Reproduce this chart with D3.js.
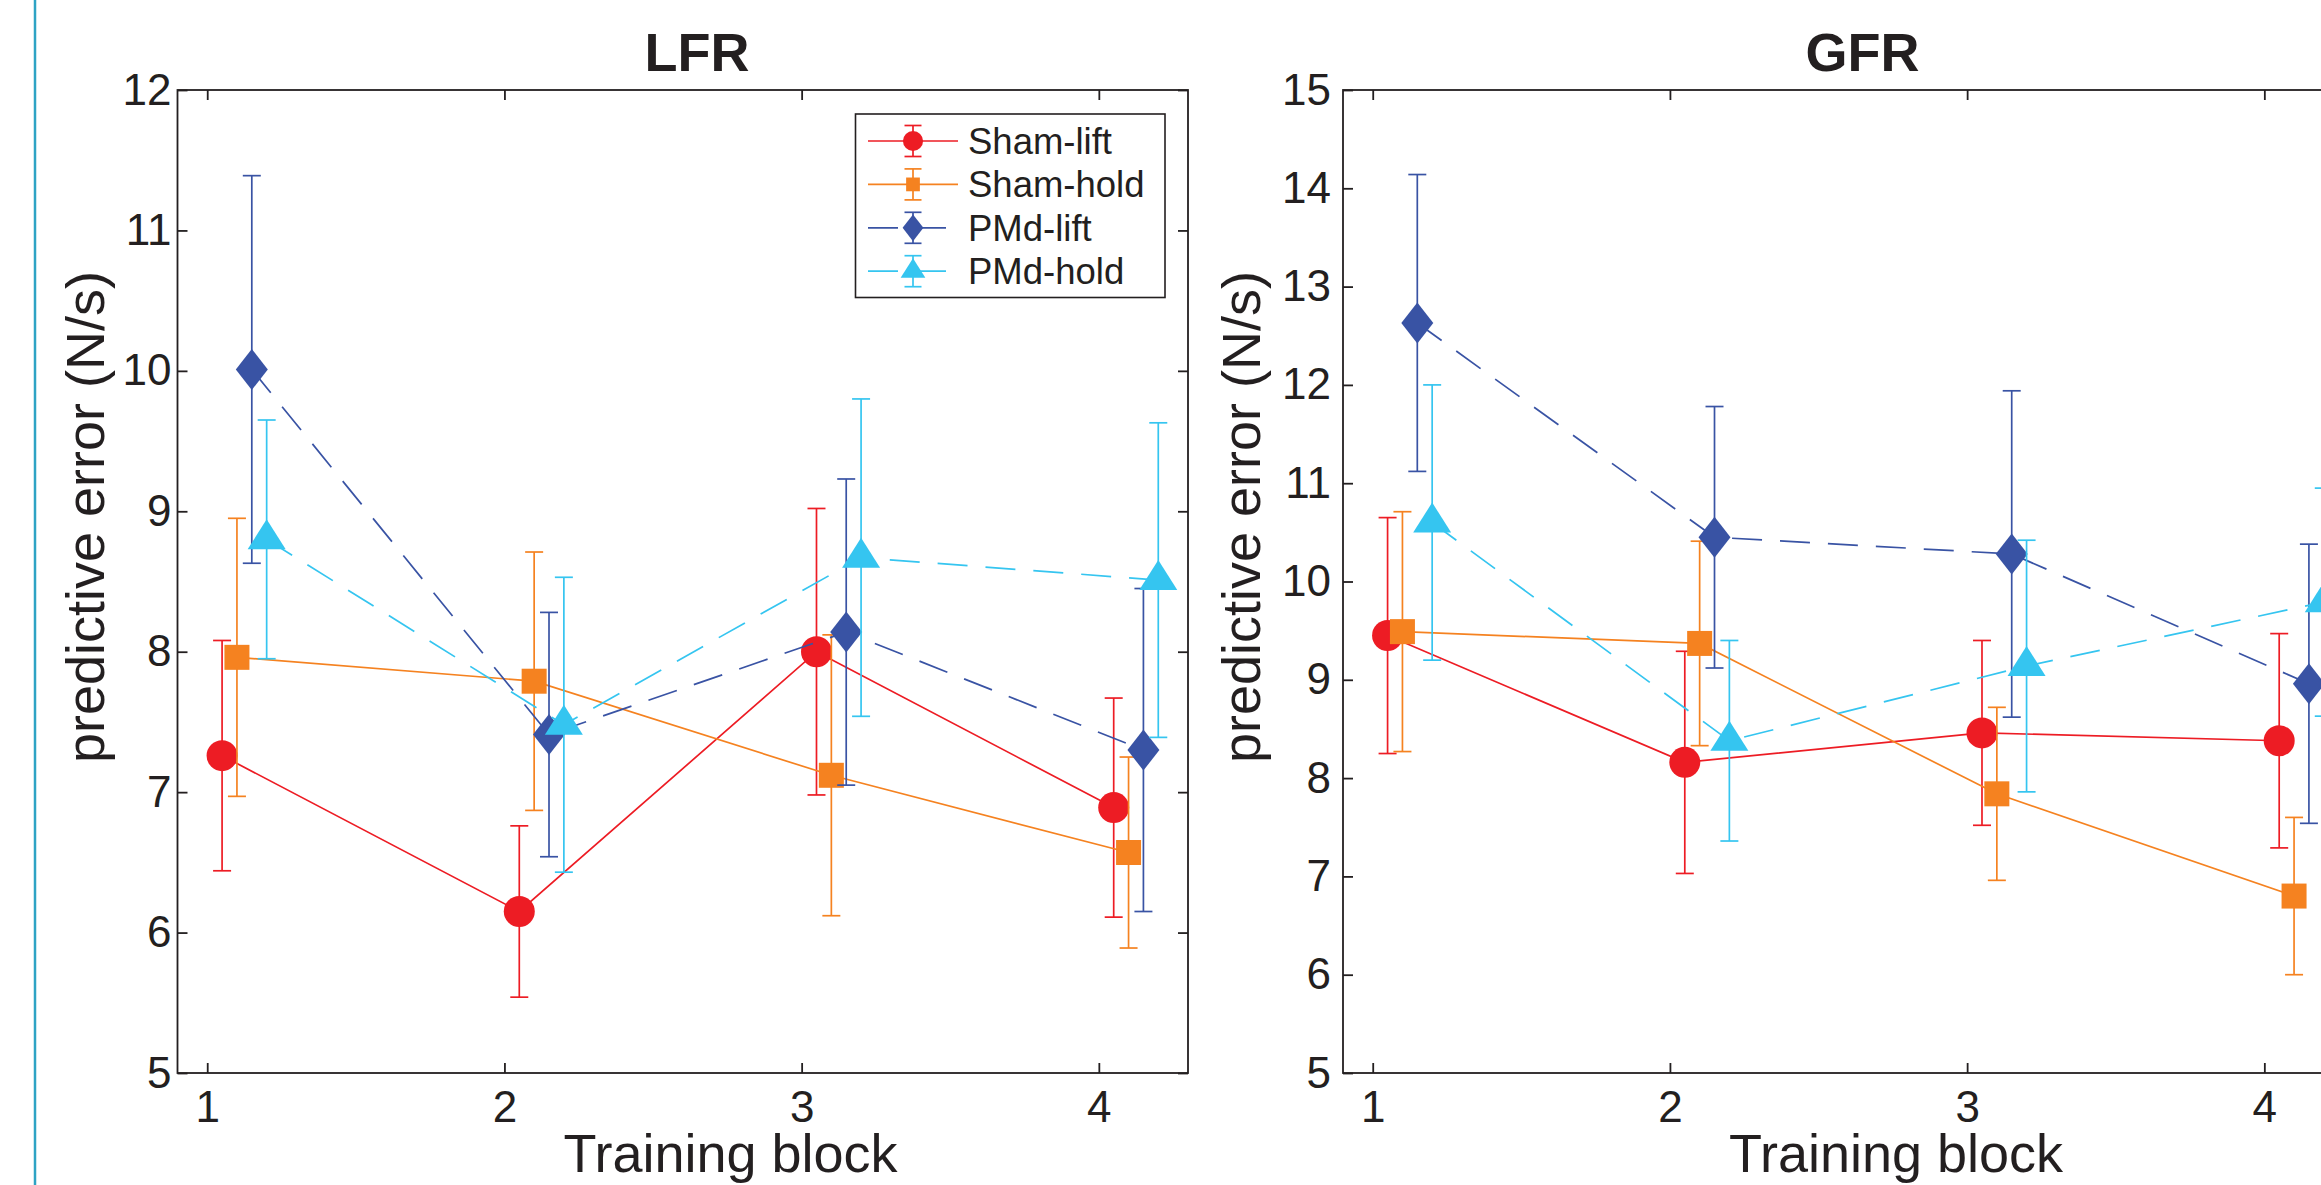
<!DOCTYPE html>
<html lang="en">
<head>
<meta charset="utf-8" />
<title>Predictive error - LFR / GFR</title>
<style>
  * { margin: 0; padding: 0; }
  body { background: #fff; }
  svg { display: block; font-family: "Liberation Sans", Arial, Helvetica, sans-serif; }
  .axis path { display: none; }
  .axis line { stroke: #231f20; stroke-width: 1.8px; }
  .axis text { font-size: 44px; fill: #231f20; font-family: "Liberation Sans", Arial, sans-serif; }
  .frame { fill: none; stroke: #231f20; stroke-width: 1.8px; }
  .title { font-size: 54px; font-weight: bold; fill: #231f20; text-anchor: middle; }
  .label { font-size: 54px; fill: #231f20; text-anchor: middle; }
  .legend text { font-size: 36.5px; fill: #231f20; }
</style>
</head>
<body>
<script src="https://d3js.org/d3.v7.min.js"></script>
<div id="chart"></div>
<script>

// ---- data ----
var blocks = [1, 2, 3, 4];
var seriesNames = ["Sham-lift", "Sham-hold", "PMd-lift", "PMd-hold"];
var lfrTicks = [5, 6, 7, 8, 9, 10, 11, 12];
var gfrTicks = [5, 6, 7, 8, 9, 10, 11, 12, 13, 14, 15];

// LFR means and error bar half-widths
var lfrShamLift     = [7.26, 6.15, 8.00, 6.89];
var lfrShamLiftErr  = [0.82, 0.61, 1.02, 0.78];
var lfrShamHold     = [7.96, 7.79, 7.12, 6.57];
var lfrShamHoldErr  = [0.99, 0.92, 1.00, 0.68];
var lfrPmdLift      = [10.01, 7.41, 8.14, 7.30];
var lfrPmdLiftErr   = [1.38, 0.87, 1.09, 1.15];
var lfrPmdHold      = [8.80, 7.48, 8.67, 8.51];
var lfrPmdHoldErr   = [0.85, 1.05, 1.13, 1.12];

// GFR means and error bar half-widths
var gfrShamLift     = [9.45, 8.16, 8.46, 8.38];
var gfrShamLiftErr  = [1.20, 1.13, 0.94, 1.09];
var gfrShamHold     = [9.49, 9.37, 7.84, 6.80];
var gfrShamHoldErr  = [1.22, 1.04, 0.88, 0.80];
var gfrPmdLift      = [12.63, 10.45, 10.28, 8.96];
var gfrPmdLiftErr   = [1.51, 1.33, 1.66, 1.42];
var gfrPmdHold      = [10.60, 8.38, 9.14, 9.79];
var gfrPmdHoldErr   = [1.40, 1.02, 1.28, 1.16];

// ---- styling ----
var colors  = ["#ed1c24", "#f58220", "#3953a4", "#35c5f0"];
var shapes  = ["circle", "square", "diamond", "triangle"];
var offsets = [0.05, 0.10, 0.15, 0.20];
var dashes  = [null, null, "30,18", "30,18"];

var W = 2321, H = 1185;
var top0 = 90, bottom0 = 1073, plotW = 1010.5;
var fmt = d3.format("d");

var svg = d3.select("#chart").append("svg")
    .attr("width", W)
    .attr("height", H);

// thin vertical rule at the far left of the page
svg.append("line")
    .attr("x1", 35).attr("x2", 35)
    .attr("y1", 0).attr("y2", H)
    .attr("stroke", "#2ea3c4")
    .attr("stroke-width", 2.5);

// marker path centred on 0,0 ; s = scale factor (1 for plot, smaller for legend)
var markerPath = function(shape, s) {
    if (shape == "circle") {
        var r = 15.5 * s;
        return "M" + (-r) + ",0A" + r + "," + r + " 0 1,0 " + r + ",0A" + r + "," + r + " 0 1,0 " + (-r) + ",0Z";
    } else if (shape == "square") {
        var h = 12.5 * s;
        return "M" + (-h) + "," + (-h) + "H" + h + "V" + h + "H" + (-h) + "Z";
    } else if (shape == "diamond") {
        var w = 16 * s, v = 20.5 * s;
        return "M0," + (-v) + "L" + w + ",0L0," + v + "L" + (-w) + ",0Z";
    } else {
        var tw = 19 * s;
        return "M0," + (-20 * s) + "L" + tw + "," + (10 * s) + "L" + (-tw) + "," + (10 * s) + "Z";
    }
};

var drawPanel = function(cfg) {
    var x = d3.scaleLinear().domain([0.9, 4.3]).range([cfg.x0, cfg.x0 + plotW]);
    var y = d3.scaleLinear().domain([cfg.ticks[0], cfg.ticks[cfg.ticks.length - 1]]).range([bottom0, top0]);
    var g = svg.append("g");

    g.append("rect")
        .attr("class", "frame")
        .attr("x", cfg.x0).attr("y", top0)
        .attr("width", plotW).attr("height", bottom0 - top0);

    g.append("g")
        .attr("class", "axis")
        .attr("transform", "translate(" + cfg.x0 + ",0)")
        .call(d3.axisLeft(y).tickValues(cfg.ticks).tickFormat(fmt).tickSizeInner(-10).tickSizeOuter(0).tickPadding(cfg.tickPad));
    g.append("g")
        .attr("class", "axis")
        .attr("transform", "translate(" + (cfg.x0 + plotW) + ",0)")
        .call(d3.axisRight(y).tickValues(cfg.ticks).tickSizeInner(-10).tickSizeOuter(0).tickFormat(""));
    g.append("g")
        .attr("class", "axis")
        .attr("transform", "translate(0," + bottom0 + ")")
        .call(d3.axisBottom(x).tickValues(blocks).tickFormat(fmt).tickSizeInner(-10).tickSizeOuter(0).tickPadding(18));
    g.append("g")
        .attr("class", "axis")
        .attr("transform", "translate(0," + top0 + ")")
        .call(d3.axisTop(x).tickValues(blocks).tickSizeInner(-10).tickSizeOuter(0).tickFormat(""));

    // series
    cfg.means.forEach(function(m, i) {
        var pts = blocks.map(function(b, j) { return {x: b + offsets[i], y: m[j], e: cfg.errs[i][j]}; });
        var line = d3.line()
            .x(function(d) { return x(d.x); })
            .y(function(d) { return y(d.y); });
        var sg = g.append("g");
        sg.append("path")
            .datum(pts)
            .attr("d", line)
            .attr("fill", "none")
            .attr("stroke", colors[i])
            .attr("stroke-width", 1.7)
            .attr("stroke-dasharray", dashes[i]);
        var eb = sg.selectAll(".eb").data(pts).enter().append("g").attr("class", "eb")
            .attr("stroke", colors[i]).attr("stroke-width", 1.7);
        eb.append("line")
            .attr("x1", function(d) { return x(d.x); }).attr("x2", function(d) { return x(d.x); })
            .attr("y1", function(d) { return y(d.y - d.e); }).attr("y2", function(d) { return y(d.y + d.e); });
        eb.append("line")
            .attr("x1", function(d) { return x(d.x) - 9; }).attr("x2", function(d) { return x(d.x) + 9; })
            .attr("y1", function(d) { return y(d.y + d.e); }).attr("y2", function(d) { return y(d.y + d.e); });
        eb.append("line")
            .attr("x1", function(d) { return x(d.x) - 9; }).attr("x2", function(d) { return x(d.x) + 9; })
            .attr("y1", function(d) { return y(d.y - d.e); }).attr("y2", function(d) { return y(d.y - d.e); });
        sg.selectAll(".mk").data(pts).enter().append("path")
            .attr("class", "mk")
            .attr("transform", function(d) { return "translate(" + x(d.x) + "," + y(d.y) + ")"; })
            .attr("d", markerPath(shapes[i], 1))
            .attr("fill", colors[i]);
    });

    // titles and labels
    g.append("text").attr("class", "title")
        .attr("x", cfg.x0 + 519.5).attr("y", 71)
        .text(cfg.title);
    g.append("text").attr("class", "label")
        .attr("x", cfg.x0 + 553).attr("y", 1172)
        .text("Training block");
    g.append("text").attr("class", "label")
        .attr("transform", "translate(" + (cfg.x0 - cfg.ylabOff) + ",517) rotate(-90)")
        .text("predictive error (N/s)");
};

drawPanel({
    title: "LFR", x0: 177.5, ticks: lfrTicks, tickPad: 6, ylabOff: 73.5,
    means: [lfrShamLift, lfrShamHold, lfrPmdLift, lfrPmdHold],
    errs: [lfrShamLiftErr, lfrShamHoldErr, lfrPmdLiftErr, lfrPmdHoldErr]
});
drawPanel({
    title: "GFR", x0: 1343, ticks: gfrTicks, tickPad: 12, ylabOff: 83,
    means: [gfrShamLift, gfrShamHold, gfrPmdLift, gfrPmdHold],
    errs: [gfrShamLiftErr, gfrShamHoldErr, gfrPmdLiftErr, gfrPmdHoldErr]
});

// legend (LFR panel only)
var legend = svg.append("g").attr("class", "legend");
legend.append("rect")
    .attr("x", 855.5).attr("y", 114)
    .attr("width", 309.5).attr("height", 183.5)
    .attr("fill", "#fff")
    .attr("stroke", "#231f20")
    .attr("stroke-width", 1.6);
seriesNames.forEach(function(name, i) {
    var cy = 141 + i * 43.4;
    var row = legend.append("g").attr("stroke", colors[i]).attr("stroke-width", 1.7);
    row.append("line")
        .attr("x1", 868).attr("x2", i < 2 ? 958 : 946)
        .attr("y1", cy).attr("y2", cy)
        .attr("stroke-dasharray", dashes[i]);
    row.append("line").attr("x1", 913).attr("x2", 913).attr("y1", cy - 15.5).attr("y2", cy + 15.5);
    row.append("line").attr("x1", 904.5).attr("x2", 921.5).attr("y1", cy - 15.5).attr("y2", cy - 15.5);
    row.append("line").attr("x1", 904.5).attr("x2", 921.5).attr("y1", cy + 15.5).attr("y2", cy + 15.5);
    legend.append("path")
        .attr("transform", "translate(913," + cy + ")")
        .attr("d", markerPath(shapes[i], i == 1 ? 0.55 : 0.65))
        .attr("fill", colors[i]);
    legend.append("text")
        .attr("x", 968).attr("y", cy + 13)
        .text(name);
});

</script>
</body>
</html>
